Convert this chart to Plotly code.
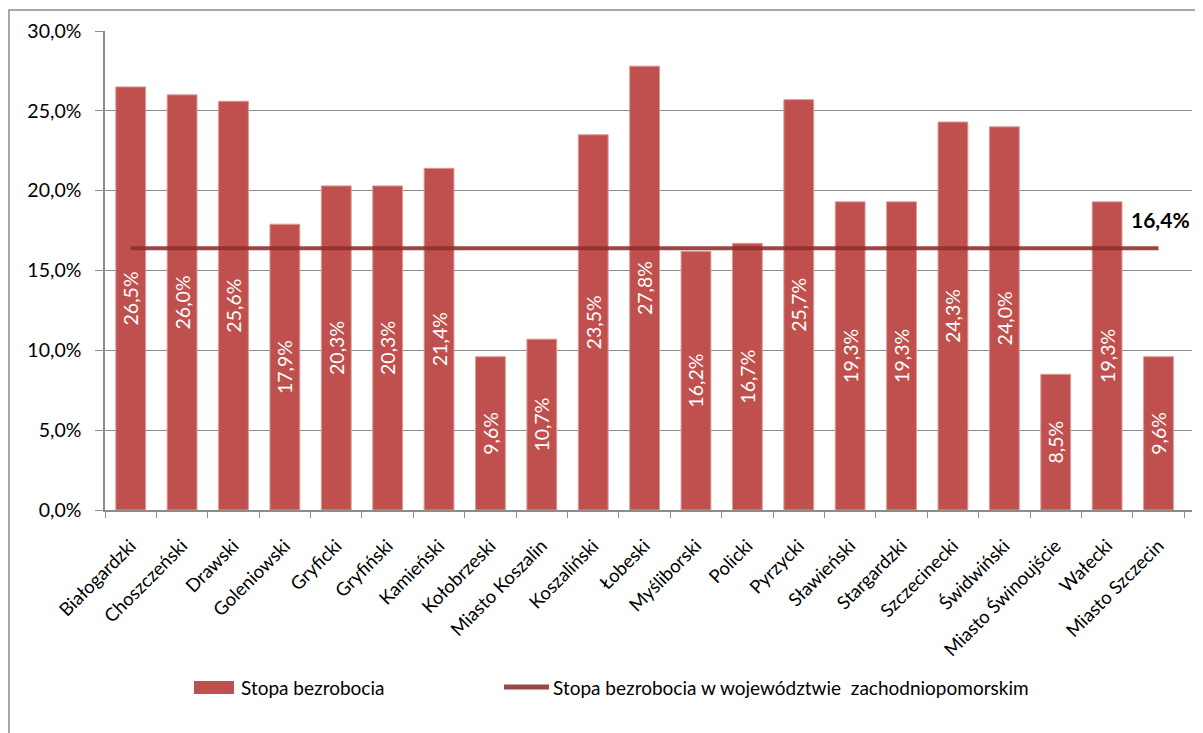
import plotly.graph_objects as go

categories = ["Białogardzki", "Choszczeński", "Drawski", "Goleniowski", "Gryficki",
              "Gryfiński", "Kamieński", "Kołobrzeski", "Miasto Koszalin", "Koszaliński",
              "Łobeski", "Myśliborski", "Policki", "Pyrzycki", "Sławieński",
              "Stargardzki", "Szczecinecki", "Świdwiński", "Miasto Świnoujście", "Wałecki",
              "Miasto Szczecin"]
unemployment = [0.265, 0.260, 0.256, 0.179, 0.203, 0.203, 0.214, 0.096, 0.107, 0.235,
                0.278, 0.162, 0.167, 0.257, 0.193, 0.193, 0.243, 0.240, 0.085, 0.193, 0.096]
region_rate = 0.164
series_names = ["Stopa bezrobocia", "Stopa bezrobocia w województwie  zachodniopomorskim"]

FONT = "Lato, 'Open Sans', sans-serif"
BAR_COLOR = "#C0504D"
LINE_COLOR = "rgba(140,45,43,0.88)"
GRAY = "#8C8C8C"

# plot area in figure pixels
L, T, W, H = 97, 23, 1087, 479


def px_x(p):
    return (p - L) / W


def px_y(p):
    return (T + H - p) / H


fig = go.Figure()
fig.add_trace(go.Bar(
    x=categories, y=unemployment, name=series_names[0],
    marker=dict(color=BAR_COLOR, line=dict(color="#DA9A98", width=1)),
    texttemplate="%{y:.1%}", textposition="inside", insidetextanchor="middle",
    textangle=-90, textfont=dict(color="white", size=19.5, family=FONT),
    constraintext="none", showlegend=False,
))
fig.add_trace(go.Scatter(
    x=categories, y=[region_rate] * len(categories), name=series_names[1],
    mode="lines", line=dict(color=LINE_COLOR, width=4), showlegend=False,
))
fig.add_annotation(
    x=categories[-1], y=region_rate, text=f"<b>{region_rate*100:.1f}%</b>".replace(".", ","),
    showarrow=False, yshift=29, xshift=2,
    font=dict(family=FONT, size=21, color="black"),
)

# legend (drawn manually to match the reference's symbol sizes)
fig.add_annotation(xref="paper", yref="paper", x=px_x(231), y=px_y(679),
                   xanchor="left", yanchor="middle", showarrow=False,
                   text=series_names[0], font=dict(family=FONT, size=19, color="black"))
fig.add_annotation(xref="paper", yref="paper", x=px_x(543), y=px_y(679),
                   xanchor="left", yanchor="middle", showarrow=False,
                   text=series_names[1].replace("  ", "&nbsp; "),
                   font=dict(family=FONT, size=19, color="black"))

shapes = [
    dict(type="rect", xref="paper", yref="paper",
         x0=px_x(1), x1=px_x(1230), y0=px_y(900), y1=px_y(2),
         line=dict(color=GRAY, width=1.5), fillcolor="rgba(0,0,0,0)", layer="below"),
    dict(type="rect", xref="paper", yref="paper",
         x0=px_x(186), x1=px_x(226), y0=px_y(686), y1=px_y(673),
         line=dict(width=0), fillcolor=BAR_COLOR),
    dict(type="line", xref="paper", yref="paper",
         x0=px_x(496), x1=px_x(541), y0=px_y(679), y1=px_y(679),
         line=dict(color=LINE_COLOR, width=5)),
]

fig.update_layout(
    width=1203, height=733,
    margin=dict(l=L, r=1203 - L - W, t=T, b=733 - T - H),
    paper_bgcolor="white", plot_bgcolor="white",
    separators=", ",
    bargap=0.42,
    font=dict(family=FONT, size=18, color="black"),
    showlegend=False,
    shapes=shapes,
)
fig.update_yaxes(range=[0, 0.30], dtick=0.05, tickformat=".1%",
                 showgrid=True, gridcolor=GRAY, gridwidth=1,
                 showline=True, linecolor=GRAY, linewidth=1.5,
                 ticks="outside", ticklen=8, tickcolor=GRAY, ticklabelstandoff=10,
                 tickfont=dict(family=FONT, size=19.5, color="black"), zeroline=False)
fig.update_xaxes(tickangle=-45, showline=True, linecolor=GRAY, linewidth=1.5,
                 ticks="outside", tickson="boundaries", ticklen=6, tickcolor=GRAY,
                 ticklabelstandoff=16, ticklabelshift=0,
                 tickfont=dict(family=FONT, size=18.5, color="black"), showgrid=False)

fig.write_html("out.html")
